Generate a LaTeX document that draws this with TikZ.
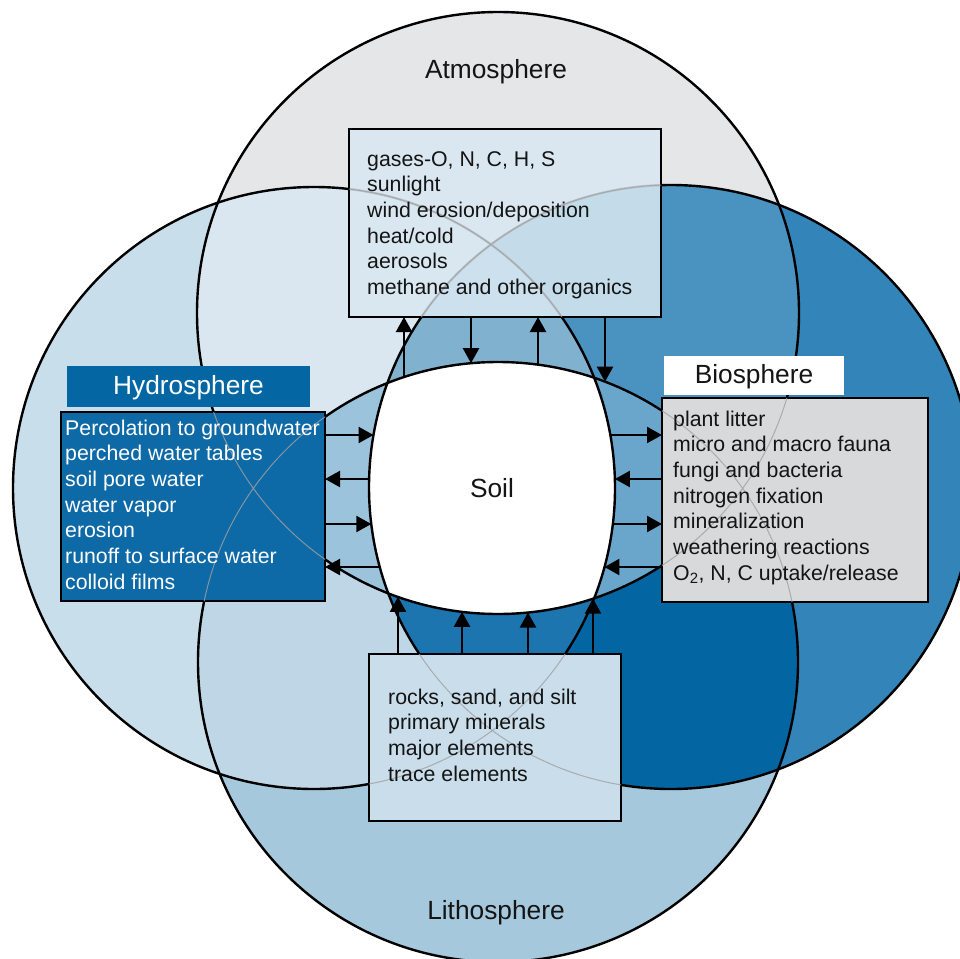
\documentclass[tikz,border=0pt]{standalone}
\usepackage{fontspec}
\setmainfont{Liberation Sans}
\usetikzlibrary{arrows.meta}
\definecolor{colA}{HTML}{E5E6E8}
\definecolor{colH}{HTML}{C9DEEB}
\definecolor{colB}{HTML}{3384B8}
\definecolor{colL}{HTML}{A6C8DD}
\definecolor{colAH}{HTML}{DAE7F1}
\definecolor{colAB}{HTML}{4A93C0}
\definecolor{colHL}{HTML}{BED6E6}
\definecolor{colBL}{HTML}{0366A3}
\definecolor{colAHB}{HTML}{80B2D0}
\definecolor{colAHL}{HTML}{9BC3DB}
\definecolor{colABL}{HTML}{6AA6CC}
\definecolor{colHBL}{HTML}{1C75AE}
\definecolor{atmfill}{HTML}{D9E8F2}
\definecolor{hydfill}{HTML}{0E6AA7}
\definecolor{hydlabfill}{HTML}{0466A3}
\definecolor{biofill}{HTML}{D8D9DB}
\definecolor{litfill}{HTML}{C9DDEA}
\definecolor{txt}{HTML}{141414}
\definecolor{faintline}{HTML}{A0A0A0}
\begin{document}
\begin{tikzpicture}[x=1pt,y=-1pt,
  circ/.style={draw=black,line width=2.4pt},
  faint/.style={draw=faintline,line width=1pt,draw opacity=0.8},
  boxstyle/.style={draw=black,line width=2.4pt,inner sep=0pt,outer sep=0pt},
  labstyle/.style={inner sep=0pt,outer sep=0pt},
  arr/.style={-{Triangle[length=15pt,width=16pt]},line width=2.3pt},
  body/.style={font=\fontsize{21.3}{25.7}\selectfont,align=left,inner sep=0pt,anchor=base west,text=txt},
  title/.style={font=\fontsize{26.3}{30}\selectfont,inner sep=0pt,anchor=base,text=txt}]
\useasboundingbox (0,0) rectangle (960,958);
\coordinate (cA) at (498,313);
\coordinate (cH) at (314,488);
\coordinate (cB) at (671,487);
\coordinate (cL) at (498,662);
\def\rA{301pt}\def\rH{301pt}\def\rB{302pt}\def\rL{300pt}
% single regions
\fill[colA] (cA) circle[radius=\rA];
\fill[colH] (cH) circle[radius=\rH];
\fill[colB] (cB) circle[radius=\rB];
\fill[colL] (cL) circle[radius=\rL];
% pairs
\begin{scope}
  \clip (cA) circle[radius=\rA];
  \fill[colAH] (cH) circle[radius=\rH];
  \fill[colAB] (cB) circle[radius=\rB];
\end{scope}
\begin{scope}
  \clip (cL) circle[radius=\rL];
  \fill[colHL] (cH) circle[radius=\rH];
  \fill[colBL] (cB) circle[radius=\rB];
\end{scope}
% triples
\begin{scope}
  \clip (cA) circle[radius=\rA];
  \clip (cH) circle[radius=\rH];
  \fill[colAHB] (cB) circle[radius=\rB];
  \fill[colAHL] (cL) circle[radius=\rL];
\end{scope}
\begin{scope}
  \clip (cB) circle[radius=\rB];
  \clip (cL) circle[radius=\rL];
  \fill[colHBL] (cH) circle[radius=\rH];
  \fill[colABL] (cA) circle[radius=\rA];
\end{scope}
% soil (all four)
\begin{scope}
  \clip (cA) circle[radius=\rA];
  \clip (cH) circle[radius=\rH];
  \clip (cB) circle[radius=\rB];
  \fill[white] (cL) circle[radius=\rL];
\end{scope}
% outlines
\draw[circ] (cA) circle[radius=\rA];
\draw[circ] (cH) circle[radius=\rH];
\draw[circ] (cB) circle[radius=\rB];
\draw[circ] (cL) circle[radius=\rL];
% boxes
\node[boxstyle,fill=atmfill,fill opacity=0.86,minimum width=312pt,minimum height=188pt] (atmbox) at (505,223) {};
\node[boxstyle,fill=hydfill,minimum width=264pt,minimum height=189pt] (hydbox) at (193,506.5) {};
\node[boxstyle,fill=biofill,minimum width=266pt,minimum height=204pt] (biobox) at (795,500) {};
\node[boxstyle,fill=litfill,minimum width=252pt,minimum height=167pt] (litbox) at (495,737.5) {};
\node[labstyle,fill=hydlabfill,minimum width=243pt,minimum height=41pt] (hydlab) at (188.5,386.5) {};
\node[labstyle,fill=white,minimum width=180pt,minimum height=39pt] (biolab) at (754,375.5) {};
% circle traces seen through the boxes
\begin{scope}
  \clip (atmbox.south west) rectangle (atmbox.north east)
        (hydbox.south west) rectangle (hydbox.north east)
        (biobox.south west) rectangle (biobox.north east)
        (litbox.south west) rectangle (litbox.north east);
  \draw[faint] (cA) circle[radius=\rA];
  \draw[faint] (cH) circle[radius=\rH];
  \draw[faint] (cB) circle[radius=\rB];
  \draw[faint] (cL) circle[radius=\rL];
\end{scope}
% arrows: atmosphere
\coordinate (ta1) at (404,377.1);
\coordinate (ta2) at (471,363.2);
\coordinate (ta3) at (538,364.7);
\coordinate (ta4) at (605,381.7);
\draw[arr] (ta1) -- (ta1 |- atmbox.south);
\draw[arr] (ta2 |- atmbox.south) -- (ta2);
\draw[arr] (ta3) -- (ta3 |- atmbox.south);
\draw[arr] (ta4 |- atmbox.south) -- (ta4);
% arrows: lithosphere
\coordinate (tb1) at (398,596.9);
\coordinate (tb2) at (462,611.8);
\coordinate (tb3) at (528,612.5);
\coordinate (tb4) at (593,598.6);
\draw[arr] (tb1 |- litbox.north) -- (tb1);
\draw[arr] (tb2 |- litbox.north) -- (tb2);
\draw[arr] (tb3 |- litbox.north) -- (tb3);
\draw[arr] (tb4 |- litbox.north) -- (tb4);
% arrows: hydrosphere
\coordinate (tl1) at (373.5,435);
\coordinate (tl2) at (369.1,479);
\coordinate (tl3) at (371.3,524);
\coordinate (tl4) at (379.8,567);
\draw[arr] (tl1 -| hydbox.east) -- (tl1);
\draw[arr] (tl2) -- (tl2 -| hydbox.east);
\draw[arr] (tl3 -| hydbox.east) -- (tl3);
\draw[arr] (tl4) -- (tl4 -| hydbox.east);
% arrows: biosphere
\coordinate (tr1) at (610.3,435);
\coordinate (tr2) at (614.9,479);
\coordinate (tr3) at (612.8,524);
\coordinate (tr4) at (604.4,567);
\draw[arr] (tr1) -- (tr1 -| biobox.west);
\draw[arr] (tr2 -| biobox.west) -- (tr2);
\draw[arr] (tr3) -- (tr3 -| biobox.west);
\draw[arr] (tr4 -| biobox.west) -- (tr4);
% texts
\node[title] (atmtitle) at (496,78) {Atmosphere};
\node[title] (littitle) at (496,919) {Lithosphere};
\node[title] (soil) at (492,497) {Soil};
\node[title,text=white] (hydtitle) at (188.5,394) {Hydrosphere};
\node[title] (biotitle) at (754,383) {Biosphere};
\node[body] (atmtext) at (367,294.5) {gases-O, N, C, H, S\\sunlight\\wind erosion/deposition\\heat/cold\\aerosols\\methane and other organics};
\node[body,text=white] (hydtext) at (65,589.2) {Percolation to groundwater\\perched water tables\\soil pore water\\water vapor\\erosion\\runoff to surface water\\colloid films};
\node[body] (biotext) at (673,580.2) {plant litter\\micro and macro fauna\\fungi and bacteria\\nitrogen fixation\\mineralization\\weathering reactions\\O\textsubscript{2}, N, C uptake/release};
\node[body] (littext) at (388,781.1) {rocks, sand, and silt\\primary minerals\\major elements\\trace elements};
\end{tikzpicture}
\end{document}
